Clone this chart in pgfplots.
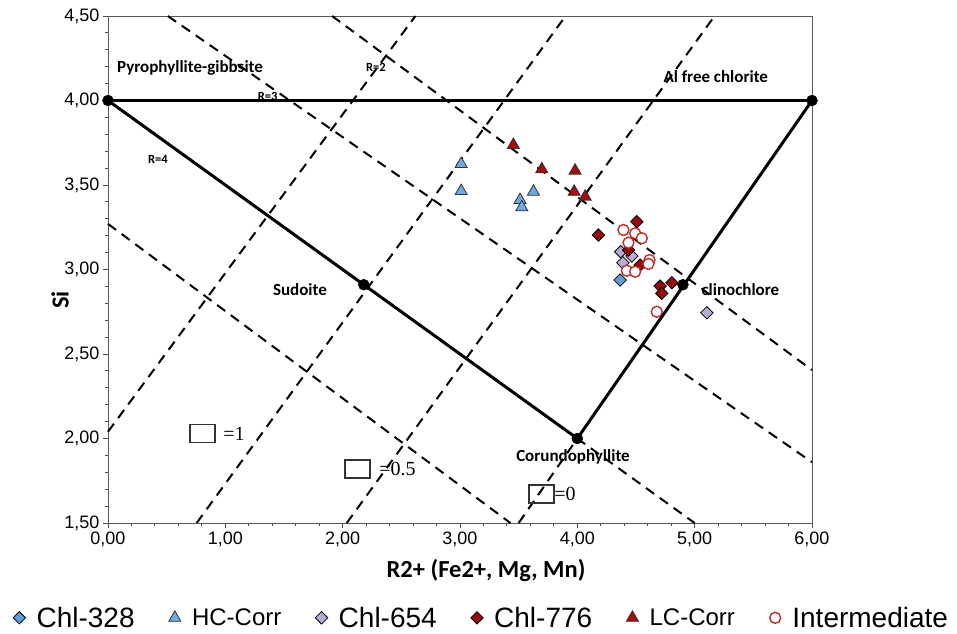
\documentclass[border=0pt]{standalone}
\usepackage{pgfplots}
\pgfplotsset{compat=1.18}
\usepackage{fontspec}
\setmainfont{Liberation Sans}
\newfontfamily\calib{Carlito}
\newfontfamily\timesf{Liberation Serif}

\definecolor{dblue}{RGB}{95,155,215}
\definecolor{tblue}{RGB}{110,170,225}
\definecolor{lav}{RGB}{185,170,215}
\definecolor{dred}{RGB}{150,10,15}
\definecolor{tred}{RGB}{165,10,15}
\definecolor{cred}{RGB}{195,45,40}

\pgfplotsset{
  rline/.style={black, dashed, line width=2pt, dash pattern=on 10pt off 7pt, forget plot},
  sline/.style={black, line width=3pt, forget plot},
}
\tikzset{
  lbl/.style={font=\calib\bfseries\fontsize{17}{17}\selectfont},
  rlbl/.style={font=\calib\bfseries\fontsize{12.5}{12.5}\selectfont},
  vlbl/.style={font=\timesf\fontsize{20}{20}\selectfont},
  vbox/.style={draw=black!80, line width=1.3pt, minimum width=25pt, minimum height=18pt, inner sep=0pt},
}

\begin{document}
\begin{tikzpicture}
\begin{axis}[
  scale only axis, width=704pt, height=507pt,
  xmin=0, xmax=6, ymin=1.5, ymax=4.5,
  xtick={0,1,...,6}, ytick={1.5,2,...,4.5},
  minor x tick num=4, minor y tick num=4,
  tick pos=left, tick align=outside,
  major tick length=5pt, minor tick length=3pt,
  axis line style={gray!70!black, line width=0.9pt},
  every tick/.style={gray!60!black, line width=0.9pt},
  /pgf/number format/use comma, /pgf/number format/fixed,
  /pgf/number format/fixed zerofill, /pgf/number format/precision=2,
  /pgf/number format/assume math mode=true,
  tick label style={font=\fontsize{18}{18}\selectfont},
  xlabel={R2+ (Fe2+, Mg, Mn)}, ylabel={Si},
  xlabel style={font=\calib\bfseries\fontsize{24.5}{24.5}\selectfont,
    at={(axis description cs:0.537,-0.093)}, anchor=center},
  ylabel style={font=\calib\bfseries\fontsize{24.5}{24.5}\selectfont,
    at={(axis description cs:-0.068,0.44)}, anchor=center},
  clip=false,
  legend columns=6,
  legend image code/.code={\draw[#1] plot coordinates {(0pt,0pt)};
    \path (-7pt,0pt) (15pt,0pt);},
  legend style={draw=none, fill=none, at={(axis description cs:0.53,-0.187)},
    anchor=center, inner sep=0pt,
    /tikz/every even column/.append style={column sep=31pt}},
]
% R lines (slope -1/2) and vacancy lines (slope ~1)
\addplot[rline] coordinates {(0,3.27) (3.43,1.5)};
\addplot[rline] coordinates {(0,4) (5,1.5)};
\addplot[rline] coordinates {(0.51,4.5) (6,1.86)};
\addplot[rline] coordinates {(1.91,4.5) (6,2.405)};
\addplot[rline] coordinates {(0,2.04) (2.62,4.5)};
\addplot[rline] coordinates {(0.756,1.5) (3.90,4.5)};
\addplot[rline] coordinates {(2.035,1.5) (5.17,4.5)};
\addplot[rline] coordinates {(3.5,1.5) (4,2)};
% end members
\addplot[sline] coordinates {(0,4) (6,4)};
\addplot[sline] coordinates {(0,4) (4,2) (6,4)};
\addplot[only marks, mark=*, mark size=5.5pt, black, forget plot]
  coordinates {(0,4) (6,4) (4,2) (2.18,2.91) (4.9,2.91)};

\addplot[only marks, mark=square*, mark size=4.4pt,
  mark options={rotate=45, fill=dblue, draw=black, line width=0.8pt}]
  coordinates {(4.365,2.938)};
\addlegendentry{\fontsize{28}{28}\selectfont Chl-328}
\addplot[only marks, mark=triangle*, mark size=7pt,
  mark options={fill=tblue, draw=black!80, line width=0.8pt}]
  coordinates {(3.01,3.624) (3.01,3.464) (3.512,3.411) (3.527,3.368) (3.626,3.46)};
\addlegendentry{\fontsize{24}{24}\selectfont HC-Corr}
\addplot[only marks, mark=square*, mark size=4.4pt,
  mark options={rotate=45, fill=lav, draw=black, line width=0.8pt}]
  coordinates {(4.37,3.105) (4.465,3.08) (4.388,3.04) (5.104,2.744)};
\addlegendentry{\fontsize{28}{28}\selectfont Chl-654}
\addplot[only marks, mark=square*, mark size=4.4pt,
  mark options={rotate=45, fill=dred, draw=black, line width=0.8pt}]
  coordinates {(4.507,3.283) (4.18,3.204) (4.436,3.115) (4.535,3.027)
               (4.706,2.902) (4.806,2.922) (4.72,2.859)};
\addlegendentry{\fontsize{28}{28}\selectfont Chl-776}
\addplot[only marks, mark=triangle*, mark size=7pt,
  mark options={fill=tred, draw=black!80, line width=0.8pt}]
  coordinates {(3.455,3.737) (3.697,3.593) (3.981,3.585) (3.973,3.46) (4.067,3.431)};
\addlegendentry{\fontsize{24}{24}\selectfont LC-Corr}
\addplot[only marks, mark=*, mark size=5.5pt,
  mark options={fill=white, draw=cred, line width=1.4pt}]
  coordinates {(4.393,3.234) (4.493,3.214) (4.55,3.185) (4.436,3.159)
               (4.615,3.056) (4.606,3.033) (4.422,2.993) (4.493,2.987) (4.677,2.75)};
\addlegendentry{\fontsize{28}{28}\selectfont Intermediate}

% labels
\node[lbl] at (axis cs:0.699,4.192) {Pyrophyllite-gibbsite};
\node[lbl] at (axis cs:5.18,4.139) {Al free chlorite};
\node[lbl] at (axis cs:1.636,2.879) {Sudoite};
\node[lbl] at (axis cs:5.39,2.879) {clinochlore};
\node[lbl] at (axis cs:3.963,1.891) {Corundophyllite};
\node[rlbl] at (axis cs:1.36,4.027) {R=3};
\node[rlbl] at (axis cs:2.284,4.198) {R=2};
\node[rlbl] at (axis cs:0.426,3.654) {R=4};
% vacancy symbols
\node[vbox] at (axis cs:0.805,2.03) {};
\node[vlbl] at (axis cs:1.074,2.03) {=1};
\node[vbox] at (axis cs:2.126,1.82) {};
\node[vlbl] at (axis cs:2.467,1.82) {=0.5};
\node[vbox] at (axis cs:3.695,1.672) {};
\node[vlbl] at (axis cs:3.895,1.672) {=0};

\coordinate (bbA) at (rel axis cs:-0.1534,-0.2189);
\coordinate (bbB) at (rel axis cs:1.2060,1.0316);
\end{axis}
\path (bbA) rectangle (bbB);
\end{tikzpicture}
\end{document}
